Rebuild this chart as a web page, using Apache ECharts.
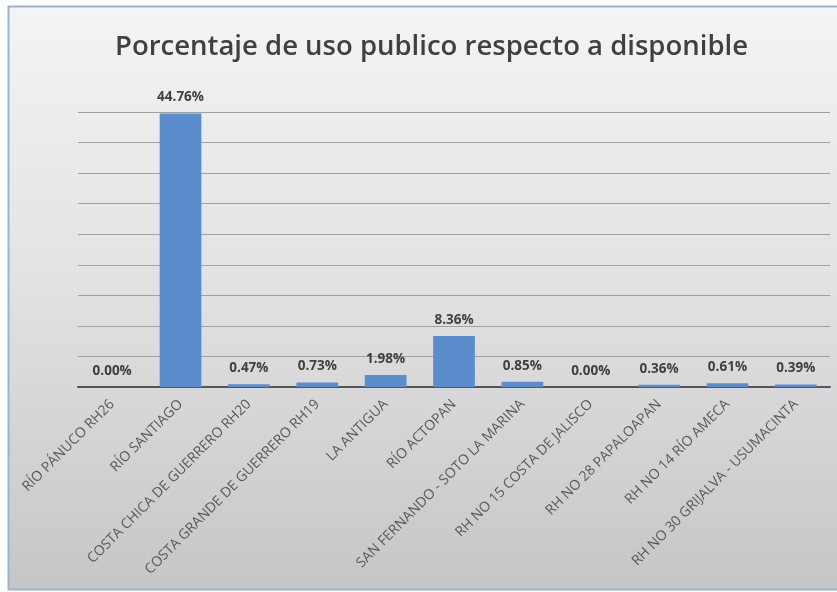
<!DOCTYPE html>
<html>
<head>
<meta charset="utf-8">
<style>
  html, body { margin: 0; padding: 0; background: #ffffff; }
  #chart { width: 837px; height: 592px; }
</style>
<script src="https://cdn.jsdelivr.net/npm/echarts@6/dist/echarts.min.js"></script>
</head>
<body>
<div id="chart"></div>
<script>
// Regiones hidrológicas y porcentaje de uso público respecto al disponible
const categories = [
  'RÍO PÁNUCO RH26',
  'RÍO SANTIAGO',
  'COSTA CHICA DE GUERRERO RH20',
  'COSTA GRANDE DE GUERRERO RH19',
  'LA ANTIGUA',
  'RÍO ACTOPAN',
  'SAN FERNANDO - SOTO LA MARINA',
  'RH NO 15 COSTA DE JALISCO',
  'RH NO 28 PAPALOAPAN',
  'RH NO 14 RÍO AMECA',
  'RH NO 30 GRIJALVA - USUMACINTA'
];
const usoPublico = [0.00, 44.76, 0.47, 0.73, 1.98, 8.36, 0.85, 0.00, 0.36, 0.61, 0.39];

const yMin = 0;
const yMax = 45;
const yStep = 5;

const chart = echarts.init(document.getElementById('chart'), null, { renderer: 'canvas' });

chart.setOption({
  animation: false,
  graphic: [{
    type: 'rect',
    z: -10,
    silent: true,
    shape: { x: 8.5, y: 6.5, width: 870, height: 583 },
    style: {
      fill: {
        type: 'linear', x: 0, y: 0, x2: 0, y2: 1,
        colorStops: [
          { offset: 0, color: '#f4f4f4' },
          { offset: 0.45, color: '#e3e3e3' },
          { offset: 1, color: '#c6c6c6' }
        ]
      },
      stroke: '#9fb2c8',
      lineWidth: 2
    }
  }],
  title: {
    text: 'Porcentaje de uso publico respecto a disponible',
    left: 110,
    top: 28,
    textStyle: {
      fontFamily: 'Open Sans',
      fontSize: 27.5,
      fontWeight: 600,
      color: '#404040'
    }
  },
  grid: { left: 78, right: 7, top: 112, bottom: 205, containLabel: false },
  xAxis: {
    type: 'category',
    data: categories,
    axisLine: { lineStyle: { color: '#555555', width: 2 } },
    axisTick: { show: false },
    axisLabel: {
      interval: 0,
      rotate: 45,
      margin: 15,
      fontFamily: 'Open Sans',
      fontSize: 14,
      color: '#595959'
    }
  },
  yAxis: {
    type: 'value',
    min: yMin,
    max: yMax,
    interval: yStep,
    axisLabel: { show: false },
    axisLine: { show: false },
    axisTick: { show: false },
    splitLine: { lineStyle: { color: '#a0a0a0', width: 1 } }
  },
  series: [{
    type: 'bar',
    data: usoPublico,
    barWidth: '61%',
    itemStyle: { color: '#5b8dcc' },
    label: {
      show: true,
      position: 'top',
      distance: 9,
      formatter: p => p.value.toFixed(2) + '%',
      fontFamily: 'Open Sans',
      fontSize: 13.5,
      fontWeight: 'bold',
      color: '#404040'
    }
  }]
});
</script>
</body>
</html>
